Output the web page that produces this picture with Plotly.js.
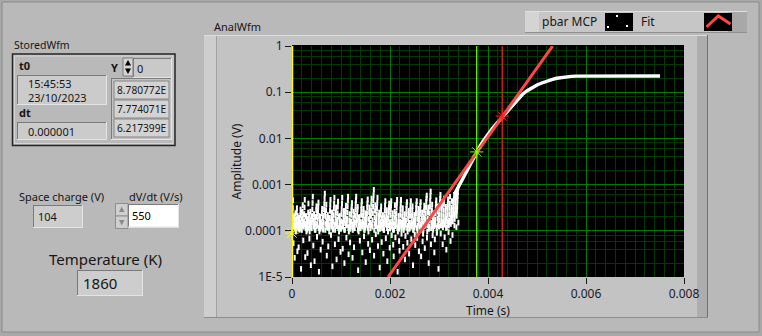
<!DOCTYPE html>
<html><head><meta charset="utf-8">
<script src="https://cdn.plot.ly/plotly-3.0.1.min.js"></script>
<style>html,body{margin:0;padding:0;background:#b9b9b9;overflow:hidden}</style>
</head><body><div id="chart" style="width:762px;height:336px"></div>
<script>
// ---------------- data ----------------
const noiseT0 = 0;            // s
const noiseDt = 0.000005;     // s, spacing of the plotted baseline samples
const noiseY = [
1.04e-4,1.6e-4,2.3e-4,3.1e-4,4.6e-4,1.3e-4,5.4e-5,1.9e-4, 1.22e-4,1.45e-4,2.1e-4,2.6e-5,1.75e-4,1.1e-4,2.4e-4,1.3e-4,
9.6e-5,1.4e-4,1.8e-4,2.5e-4,3.1e-4,1.2e-4,3.6e-5,2.1e-4, 1.35e-4,1.65e-4,1.1e-4,4.4e-5,1.5e-4,1.9e-4,1.25e-4,1.05e-4,
1.13e-4,1.5e-4,2.2e-4,2.9e-4,1.35e-4,1.5e-5,1.8e-4,2.5e-4,
1.04e-4,1.3e-4,1.9e-4,2.6e-4,3.6e-4,1.6e-4,6.2e-5,2.2e-4, 1.22e-4,1.6e-4,2.3e-4,3.2e-4,4.7e-4,1.4e-4,2.7e-5,2e-4,
1.13e-4,1.45e-4,2.1e-4,9.6e-5,1.25e-4,1.7e-4,1.05e-4,3.3e-5, 1.35e-4,1.8e-4,2.5e-4,3.9e-4,1.15e-4,1.55e-4,2.2e-4,6.8e-5,
9.6e-5,1.3e-4,1.7e-4,2.6e-4,1.2e-4,1.8e-5,1.5e-4,2e-4,
1.13e-4,1.5e-4,2.1e-4,2.9e-4,4e-4,5.5e-4,1.7e-4,4.8e-5, 1.22e-4,1.6e-4,2.3e-4,1.35e-4,2.2e-5,1.05e-4,1.9e-4,1.4e-4,
1.04e-4,1.45e-4,2e-4,2.8e-4,3.4e-4,1.25e-4,7.4e-5,2.4e-4, 1.35e-4,1.8e-4,2.6e-4,3.3e-4,4.1e-4,1.15e-4,1.3e-5,2.1e-4,
9.6e-5,1.25e-4,1.6e-4,2e-4,1.1e-4,3.9e-5,1.45e-4,1.3e-4,
1.22e-4,1.55e-4,2.4e-4,3e-4,1.35e-4,5.8e-5,1.9e-4,1.05e-4, 1.13e-4,1.5e-4,2.1e-4,2.9e-4,3.8e-4,5e-4,6.4e-4,2.5e-4,
1.04e-4,1.4e-4,2e-4,2.8e-4,3.7e-4,1.6e-4,2.9e-5,1.2e-4, 1.35e-4,1.7e-4,2.2e-4,1.15e-4,4.6e-5,1.5e-4,1.9e-4,1.25e-4,
9.6e-5,1.3e-4,1.9e-4,2.7e-4,3.6e-4,4.7e-4,1.6e-4,8.1e-5,
1.22e-4,1.6e-4,2.1e-4,2.5e-4,1.4e-4,1.7e-5,1.8e-4,1.05e-4, 1.13e-4,1.55e-4,2.2e-4,3e-4,3.9e-4,5.2e-4,1.35e-4,5.1e-5,
1.04e-4,1.4e-4,1.9e-4,2.5e-4,3.2e-4,1.6e-4,2.4e-5,1.25e-4, 1.35e-4,1.75e-4,2.4e-4,3.3e-4,4.3e-4,1.15e-4,6.6e-5,2e-4,
9.6e-5,1.3e-4,1.7e-4,2.1e-4,1.2e-4,1.5e-4,3.5e-5,1.1e-4,
1.13e-4,1.6e-4,2.3e-4,3e-4,3.9e-4,5.2e-4,1.4e-4,4.1e-5, 1.22e-4,1.5e-4,1.9e-4,2.3e-4,2.7e-4,1.05e-4,2e-5,1.7e-4,
1.04e-4,1.45e-4,2.1e-4,2.7e-4,3.5e-4,1.3e-4,7.1e-5,1.8e-4, 1.35e-4,1.8e-4,2.5e-4,3.4e-4,4.5e-4,5.5e-4,1.15e-4,3.1e-5,
9.6e-5,1.25e-4,1.7e-4,2.3e-4,1.4e-4,5.6e-5,1.1e-4,1.55e-4,
1.22e-4,1.6e-4,2.2e-4,2.8e-4,3.3e-4,4e-4,1.35e-4,2.6e-5, 1.04e-4,1.4e-4,1.9e-4,2.6e-4,1.2e-4,4.4e-5,1.55e-4,2.2e-4,
1.13e-4,1.5e-4,2.1e-4,2.9e-4,3.8e-4,4.6e-4,5.5e-4,1.7e-4, 1.35e-4,1.7e-4,2.3e-4,2.9e-4,3.3e-4,1.05e-4,1.4e-5,1.9e-4,
9.6e-5,1.3e-4,1.6e-4,2e-4,1.15e-4,6.1e-5,1.45e-4,1.25e-4,
1.13e-4,1.55e-4,2.2e-4,2.9e-4,3.6e-4,4.4e-4,1.3e-4,3.4e-5, 1.22e-4,1.6e-4,2.1e-4,2.6e-4,3e-4,1.4e-4,7.6e-5,1.05e-4,
1.04e-4,1.35e-4,1.8e-4,2.4e-4,1.2e-4,2.1e-5,1.55e-4,2e-4, 1.35e-4,1.8e-4,2.4e-4,3.2e-4,3.9e-4,4.8e-4,1.15e-4,5.2e-5,
9.6e-5,1.3e-4,1.8e-4,2.5e-4,3.2e-4,1.45e-4,3.8e-5,2.1e-4,
1.13e-4,1.5e-4,2.1e-4,2.8e-4,3.8e-4,5e-4,1.35e-4,6.4e-5, 1.22e-4,1.7e-4,2.4e-4,3.3e-4,4.5e-4,5.9e-4,7.7e-4,2.9e-5,
1.04e-4,1.4e-4,1.95e-4,2.7e-4,3.6e-4,1.6e-4,8.4e-5,1.25e-4, 1.35e-4,1.75e-4,2.3e-4,3.1e-4,4e-4,5.2e-4,1.15e-4,4.7e-5,
9.6e-5,1.3e-4,1.7e-4,2.1e-4,2.5e-4,1.45e-4,1.6e-5,1.1e-4,
1.22e-4,1.6e-4,2.2e-4,2.8e-4,3.4e-4,1.35e-4,5.7e-5,1.9e-4, 1.13e-4,1.45e-4,1.8e-4,2.2e-4,1.3e-4,3.2e-5,1.05e-4,1.6e-4,
1.04e-4,1.4e-4,2e-4,2.7e-4,3.5e-4,4.4e-4,1.7e-4,6.9e-5, 1.35e-4,1.7e-4,2.2e-4,2.8e-4,1.15e-4,2.2e-5,1.5e-4,1.9e-4,
9.6e-5,1.3e-4,1.85e-4,2.5e-4,3.2e-4,3.9e-4,1.45e-4,4.3e-5,
1.13e-4,1.55e-4,2.2e-4,2.9e-4,3.6e-4,4.4e-4,1.35e-4,8e-5, 1.22e-4,1.6e-4,1.95e-4,2.4e-4,1.05e-4,5e-5,1.45e-4,2.8e-5,
1.04e-4,1.4e-4,1.9e-4,2.6e-4,3.6e-4,1.25e-4,7.2e-5,2.2e-4, 1.35e-4,1.75e-4,2.4e-4,3.2e-4,4e-4,4.7e-4,1.15e-4,1.3e-5,
9.6e-5,1.25e-4,1.6e-4,2.1e-4,1.4e-4,6e-5,1.1e-4,3.7e-5,
1.22e-4,1.6e-4,2.2e-4,2.9e-4,3.7e-4,4.7e-4,1.35e-4,8.6e-5, 1.13e-4,1.5e-4,2e-4,2.5e-4,3.1e-4,1.3e-4,4.5e-5,1.7e-4,
1.04e-4,1.35e-4,1.75e-4,2.3e-4,1.2e-4,2.4e-5,1.5e-4,7.7e-5, 1.35e-4,1.7e-4,2.3e-4,3e-4,3.6e-4,4.2e-4,1.15e-4,5.5e-5,
9.6e-5,1.3e-4,1.8e-4,2.3e-4,2.7e-4,1.45e-4,3.2e-5,1.1e-4,
1.13e-4,1.5e-4,2.1e-4,2.8e-4,3.5e-4,4.4e-4,1.3e-4,6.6e-5, 1.22e-4,1.6e-4,2.1e-4,2.7e-4,3.4e-4,1.4e-4,1.8e-5,1.05e-4,
1.04e-4,1.35e-4,1.7e-4,2.2e-4,1.2e-4,8.3e-5,1.55e-4,4.9e-5, 1.35e-4,1.8e-4,2.4e-4,3.1e-4,3.7e-4,4.4e-4,1.15e-4,7e-5,
9.6e-5,1.3e-4,1.8e-4,2.4e-4,3e-4,1.45e-4,3.6e-5,2e-4,
1.22e-4,1.65e-4,2.3e-4,2.9e-4,3.5e-4,4.2e-4,1.35e-4,2.8e-5, 1.13e-4,1.45e-4,1.9e-4,2.5e-4,1.05e-4,5.9e-5,1.6e-4,8.6e-5,
1.04e-4,1.4e-4,2e-4,2.7e-4,3.5e-4,1.25e-4,4.2e-5,1.8e-4, 1.35e-4,1.75e-4,2.4e-4,3.2e-4,4.2e-4,5e-4,5.8e-4,7.1e-5,
9.6e-5,1.3e-4,1.85e-4,2.5e-4,3.2e-4,1.45e-4,2e-5,1.1e-4,
1.22e-4,1.7e-4,2.4e-4,3.3e-4,4.4e-4,5.6e-4,7.1e-4,5.1e-5, 1.13e-4,1.5e-4,2.1e-4,2.8e-4,3.7e-4,1.3e-4,8e-5,1.7e-4,
1.04e-4,1.4e-4,1.9e-4,2.4e-4,1.25e-4,3.4e-5,1.55e-4,6.5e-5, 1.35e-4,1.75e-4,2.4e-4,3.2e-4,3.9e-4,4.6e-4,1.15e-4,9e-5,
9.6e-5,1.3e-4,1.85e-4,2.6e-4,3.4e-4,1.45e-4,1.5e-5,2.1e-4,
1.22e-4,1.65e-4,2.3e-4,3.1e-4,4.1e-4,5e-4,6e-4,8.7e-5, 1.3e-4,1.7e-4,2.2e-4,2.9e-4,3.5e-4,4.2e-4,1.5e-4,5.1e-5,
1.2e-4,1.6e-4,2.1e-4,2.8e-4,3.8e-4,5e-4,1.4e-4,7.3e-5, 1.35e-4,1.65e-4,2e-4,2.6e-4,3.3e-4,1.15e-4,3.9e-5,1.85e-4,
1.2e-4,1.6e-4,2.2e-4,2.9e-4,3.7e-4,4.8e-4,1.4e-4,9.4e-5,
1.3e-4,1.7e-4,2.3e-4,3.1e-4,3.9e-4,5.5e-4,1.5e-4,6e-5, 1.4e-4,1.9e-4,2.4e-4,2.8e-4,3.2e-4,4.4e-4,1.6e-4,8.1e-5,
1.6e-4,2.1e-4,2.7e-4,3.4e-4,4.2e-4,4.9e-4,6e-4,1.3e-4, 1.8e-4,2.3e-4,2.9e-4,3.6e-4,4.5e-4,5.4e-4,6.5e-4,1.2e-4,
2.1e-4,2.7e-4,3.4e-4,4.4e-4,5.6e-4,6.9e-4,8.5e-4,1.5e-4
];
const signalX = [0.00332,0.00336,0.0034,0.00345,0.0035,0.00355,0.0036,0.00365,0.0037,0.00375,0.0038,0.00385,0.0039,0.00395,0.004,0.00405,0.0041,0.00415,0.0042,0.00425,0.0043,0.00435,0.0044,0.00445,0.0045,0.00455,0.0046,0.00465,0.0047,0.0048,0.0049,0.005,0.0051,0.0052,0.0053,0.0054,0.0055,0.0056,0.0057,0.0058,0.006,0.0062,0.0064,0.0066,0.0068,0.007,0.0072,0.0074,0.00751];
const signalY = [6.3e-4,7.6e-4,9.3e-4,1.17e-3,1.48e-3,1.82e-3,2.24e-3,2.82e-3,3.63e-3,4.57e-3,5.75e-3,7.2e-3,8.7e-3,1.05e-2,1.23e-2,1.45e-2,1.7e-2,1.95e-2,2.26e-2,2.6e-2,3.0e-2,3.47e-2,3.98e-2,4.57e-2,5.25e-2,6.03e-2,6.9e-2,7.9e-2,8.9e-2,0.108,0.126,0.143,0.158,0.174,0.188,0.2,0.208,0.215,0.22,0.223,0.224,0.224,0.225,0.225,0.224,0.224,0.224,0.224,0.224];
const fitX = [0.00196, 0.00532];
const fitY = [1e-5, 1];
const cursorX = [0, 0.00377, 0.00429];
const cursorY = [8.9e-5, 0.0051, 0.0305];
const cursorColors = ['#ffff00', '#80ff00', '#ff2020'];
const xTickVals = [0, 0.002, 0.004, 0.006, 0.008];
const xTickText = ['0', '0.002', '0.004', '0.006', '0.008'];
const yTickVals = [1e-5, 1e-4, 1e-3, 1e-2, 1e-1, 1];
const yTickText = ['1E-5', '0.0001', '0.001', '0.01', '0.1', '1'];
const legendNames = ['pbar MCP', 'Fit'];
const storedT0 = ['15:45:53', '23/10/2023'];
const storedDt = '0.000001';
const storedIndex = '0';
const storedY = ['8.780772E', '7.774071E', '6.217399E'];
const spaceCharge = '104';
const dVdt = '550';
const temperature = '1860';

// ---------------- layout helpers (pixel -> paper) ----------------
const FONT = '"Noto Sans", "Open Sans", sans-serif';
const BG = '#b9b9b9';
const L = 292, R = 684, T = 46, B = 277, PW = R - L, PH = B - T;
const px = x => (x - L) / PW, py = y => (B - y) / PH;
const shapes = [], ann = [];
const NONE = 'rgba(0,0,0,0)';
function rect(x0, y0, x1, y1, fill, lc, lw) {
  shapes.push({type:'rect', xref:'paper', yref:'paper', x0:px(x0), x1:px(x1), y0:py(y1), y1:py(y0),
    fillcolor: fill || NONE, line:{color: lc || NONE, width: lw || 0}, layer:'below'});
}
function line(x0, y0, x1, y1, c, w) {
  shapes.push({type:'line', xref:'paper', yref:'paper', x0:px(x0), x1:px(x1), y0:py(y0), y1:py(y1),
    line:{color:c, width:w || 1}, layer:'below'});
}
function poly(pts, fill, lc, lw, closed) {
  const d = pts.map((p, i) => (i ? 'L' : 'M') + px(p[0]).toFixed(5) + ',' + py(p[1]).toFixed(5)).join('') + (closed ? 'Z' : '');
  shapes.push({type:'path', xref:'paper', yref:'paper', path:d, fillcolor: fill || NONE,
    line:{color: lc || NONE, width: lw || 0}, layer:'below'});
}
function sunken(x0, y0, x1, y1, fill) {
  rect(x0, y0, x1, y1, fill);
  line(x0, y0 + 0.5, x1, y0 + 0.5, '#7a7a7a', 1);
  line(x0 + 0.5, y0, x0 + 0.5, y1, '#7a7a7a', 1);
  line(x0, y1 - 0.5, x1, y1 - 0.5, '#e4e4e4', 1);
  line(x1 - 0.5, y0, x1 - 0.5, y1, '#e4e4e4', 1);
}
function txt(x, y, s, size, o) {
  o = o || {};
  ann.push({xref:'paper', yref:'paper', x:px(x), y:py(y), text:s, showarrow:false,
    xanchor:o.anchor || 'left', yanchor:'middle', borderpad:0,
    font:{family:FONT, size:size, color:o.color || '#161616'}});
}

// window
rect(0, 0, 762, 336, '#a8a8a8');
rect(2, 2, 759, 332, BG, '#8a8a8a', 1);

// graph frame
rect(204, 35, 708, 318, '#c3c3c3');
rect(204, 35, 216, 318, '#cecece');
rect(697, 35, 708, 318, '#adadad');
line(204, 35.5, 708, 35.5, '#dedede', 1);
line(707.5, 35, 707.5, 318, '#707070', 1);
line(204, 317.5, 708, 317.5, '#8c8c8c', 1);
line(216.5, 36, 216.5, 317, '#a2a2a2', 1);
rect(L, T - 1, R, B, '#000000');
txt(213, 26, 'AnalWfm', 11);

// legend (LabVIEW plot legend)
rect(525, 11, 747, 33, '#c6c6c6');
rect(525, 11, 539, 33, '#d4d4d4');
rect(728, 11, 747, 33, '#a8a8a8');
line(525, 11.5, 747, 11.5, '#e0e0e0', 1);
line(525, 32.5, 747, 32.5, '#909090', 1);
txt(541, 22, legendNames[0], 12);
rect(605, 13, 633, 31, '#000000');
rect(616, 15, 618, 17, '#ffffff');
rect(626, 25, 628, 27, '#ffffff');
rect(607, 26, 609, 28, '#ffffff');
txt(640, 22, legendNames[1], 12);
rect(704, 13, 732, 31, '#000000');
poly([[706.5, 27], [718.3, 16], [730.5, 24]], null, '#ff4646', 3, false);

// StoredWfm cluster
txt(13, 45, 'StoredWfm', 10.5);
rect(12.5, 54, 175, 145.5, null, '#262626', 1.5);
rect(14.5, 56, 173, 143.5, null, '#d6d6d6', 1);
txt(18, 66, '<b>t0</b>', 11);
sunken(17, 75, 107, 105, '#cbcbcb');
txt(27, 83.5, storedT0[0], 11);
txt(27, 97.5, storedT0[1], 11);
txt(18, 113, '<b>dt</b>', 11);
sunken(17, 122, 107, 140, '#cbcbcb');
txt(27, 131, storedDt, 11);
txt(110, 67, '<b>Y</b>', 11);
rect(123, 58, 133, 76, '#d4d4d4', '#7a7a7a', 1);
poly([[128, 60], [125, 65.5], [131, 65.5]], '#000000', null, 0, true);
poly([[128, 74], [125, 68.5], [131, 68.5]], '#000000', null, 0, true);
sunken(133, 58, 172, 78, '#c9c9c9');
txt(135.5, 68, storedIndex, 11);
sunken(111, 78, 172, 140, '#c2c2c2');
[81, 100, 119].forEach((y0, i) => {
  rect(114, y0, 169, y0 + 18, '#d3d3d3', '#868686', 1);
  txt(115.5, y0 + 9.3, storedY[i], 10.2);
});

// numeric controls
txt(18, 196, 'Space charge (V)', 11);
sunken(33, 205, 83, 228, '#cdcdcd');
txt(37, 216.5, spaceCharge, 11);
txt(128, 196, 'dV/dt (V/s)', 11);
rect(115.5, 203.5, 128, 216, '#cfcfcf', '#8e8e8e', 1);
rect(115.5, 216, 128, 228.5, '#cfcfcf', '#8e8e8e', 1);
poly([[121.7, 206.5], [119, 212], [124.5, 212]], '#8a8a8a', null, 0, true);
poly([[121.7, 225.5], [119, 220], [124.5, 220]], '#8a8a8a', null, 0, true);
sunken(128, 204, 179, 227.5, '#ffffff');
txt(131, 215.5, dVdt, 11, {color:'#000000'});
txt(105, 259, 'Temperature (K)', 15, {anchor:'center'});
sunken(77, 270, 143, 296, '#cdcdcd');
txt(82, 283, temperature, 15);

// cursors (vertical lines)
cursorX.forEach((x, i) => {
  shapes.push({type:'line', xref:'x', yref:'paper', x0:x, x1:x, y0:0, y1:1,
    line:{color:cursorColors[i], width: i === 0 ? 2.5 : 1.2}, layer:'above'});
});

// y minor grid values (2,4,6,8 in every decade)
const yMinor = [];
for (let d = -5; d < 0; d++) [2, 4, 6, 8].forEach(m => yMinor.push(m * Math.pow(10, d)));

const noiseX = noiseY.map((_, i) => noiseT0 + i * noiseDt);

const traces = [
  {x:noiseX, y:noiseY, type:'scatter', mode:'markers', name:legendNames[0], legendgroup:'mcp',
   marker:{symbol:'line-ns-open', size:4, color:'#ffffff', line:{color:'#ffffff', width:2}}, hoverinfo:'x+y'},
  {x:signalX, y:signalY, type:'scatter', mode:'lines', name:legendNames[0], legendgroup:'mcp',
   line:{color:'#ffffff', width:3.4}, showlegend:false},
  {x:fitX, y:fitY, type:'scatter', mode:'lines', name:legendNames[1],
   line:{color:'#ff4646', width:3}},
  {x:cursorX, y:cursorY, type:'scatter', mode:'markers', name:'cursors', cliponaxis:false,
   marker:{symbol:'asterisk-open', size:11, color:cursorColors, line:{color:cursorColors, width:1}}, showlegend:false}
];

const tickFont = {family:FONT, size:12, color:'#1a1a2a'};
const layout = {
  width:762, height:336,
  margin:{l:L, r:762 - R, t:T, b:336 - B, pad:0},
  paper_bgcolor:BG, plot_bgcolor:'#000000',
  showlegend:false,
  font:{family:FONT, size:12, color:'#161616'},
  xaxis:{range:[0, 0.008], tickmode:'array', tickvals:xTickVals, ticktext:xTickText,
    ticks:'outside', ticklen:6, tickwidth:1, tickcolor:'#1a1a1a', tickfont:tickFont,
    showgrid:true, gridcolor:'#007c00', gridwidth:1, zeroline:false, showline:false,
    minor:{dtick:0.0002, tick0:0, showgrid:true, gridcolor:'#003a00', gridwidth:1, ticks:''},
    title:{text:'Time (s)', font:{family:FONT, size:12, color:'#161616'}, standoff:2},
    automargin:false, fixedrange:true},
  yaxis:{type:'log', range:[-5, 0], tickmode:'array', tickvals:yTickVals, ticktext:yTickText,
    ticks:'outside', ticklen:6, tickwidth:1, tickcolor:'#1a1a1a', tickfont:tickFont,
    showgrid:true, gridcolor:'#007c00', gridwidth:1, zeroline:false, showline:false,
    minor:{tickmode:'array', tickvals:yMinor, showgrid:true, gridcolor:'#003a00', gridwidth:1, ticks:''},
    title:{text:'Amplitude (V)', font:{family:FONT, size:12, color:'#161616'}, standoff:0},
    automargin:false, fixedrange:true},
  shapes:shapes,
  annotations:ann
};

Plotly.newPlot('chart', traces, layout, {displayModeBar:false, staticPlot:true});
</script>
</body></html>
